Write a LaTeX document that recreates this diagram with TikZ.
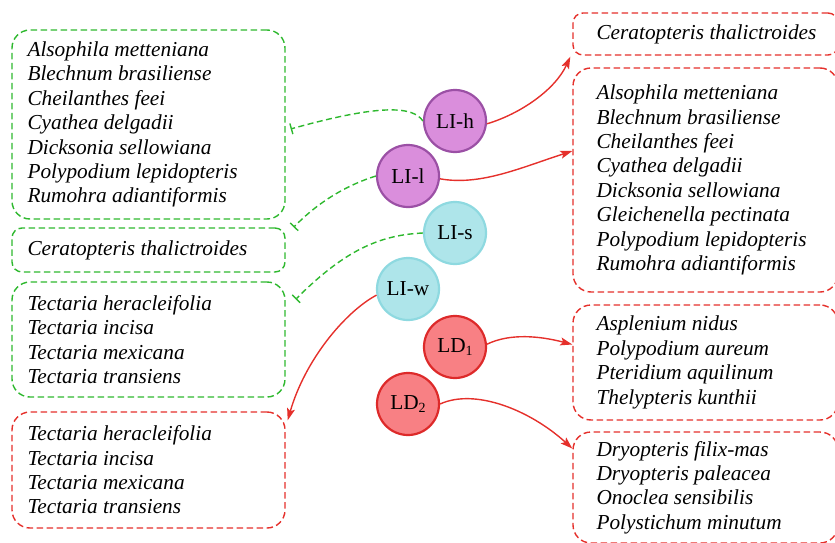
\documentclass[tikz,border=0pt]{standalone}
\usepackage{fontspec}
\setmainfont{Liberation Serif}
\usetikzlibrary{arrows.meta}
\definecolor{grn}{HTML}{2EB82E}
\definecolor{rd}{HTML}{E5302B}
\definecolor{purf}{HTML}{DA8EDC}
\definecolor{purd}{HTML}{9B50A5}
\definecolor{cyf}{HTML}{AEE5EA}
\definecolor{cyd}{HTML}{8ED9E0}
\definecolor{redf}{HTML}{F88084}
\definecolor{redd}{HTML}{DD2A2A}
\tikzset{
  gbox/.style={draw=grn, line width=1.4pt, dash pattern=on 6.5pt off 3.5pt, rounded corners=18pt, inner sep=0pt},
  rbox/.style={gbox, draw=rd},
  lst/.style={inner sep=0pt, align=left, font=\fontsize{21.3}{24.4}\selectfont\itshape, anchor=west},
  circ/.style={circle, minimum size=62pt, inner sep=0pt, line width=2.2pt, font=\fontsize{21.3}{24}\selectfont},
  pur/.style={circ, fill=purf, draw=purd},
  cy/.style={circ, fill=cyf, draw=cyd},
  rdc/.style={circ, fill=redf, draw=redd},
  inh/.style={draw=grn, line width=1.4pt, dash pattern=on 6pt off 3.5pt, -{Bar[width=11pt, line width=1.4pt]}},
  act/.style={draw=rd, line width=1.4pt, -{Stealth[length=12pt, width=8pt, inset=2.5pt]}},
}
\newcommand{\subn}[1]{\raisebox{-0.35ex}{\fontsize{14}{14}\selectfont #1}}
\begin{document}
\begin{tikzpicture}[x=1pt,y=-1pt]
\useasboundingbox (0,0) rectangle (835,543);
% left boxes
\node[gbox, minimum width=273pt, minimum height=189pt] (lb1) at (148.5,124.5) {};
\node[gbox, rounded corners=10pt, minimum width=273pt, minimum height=44pt] (lb2) at (148.5,250) {};
\node[gbox, minimum width=273pt, minimum height=115pt] (lb3) at (148.5,339.5) {};
\node[rbox, minimum width=273pt, minimum height=116pt] (lb4) at (148.5,470) {};
\node[lst] (lt1) at ([xshift=16pt]lb1.west) {Alsophila metteniana\\Blechnum brasiliense\\Cheilanthes feei\\Cyathea delgadii\\Dicksonia sellowiana\\Polypodium lepidopteris\\Rumohra adiantiformis};
\node[lst] (lt2) at ([xshift=16pt]lb2.west) {Ceratopteris thalictroides};
\node[lst] (lt3) at ([xshift=16pt]lb3.west) {Tectaria heracleifolia\\Tectaria incisa\\Tectaria mexicana\\Tectaria transiens};
\node[lst] (lt4) at ([xshift=16pt]lb4.west) {Tectaria heracleifolia\\Tectaria incisa\\Tectaria mexicana\\Tectaria transiens};
% right boxes
\node[rbox, rounded corners=10pt, minimum width=265pt, minimum height=42pt] (r1) at (705.5,34) {};
\node[rbox, minimum width=265pt, minimum height=224pt] (r2) at (705.5,180) {};
\node[rbox, minimum width=265pt, minimum height=115pt] (r3) at (705.5,362.5) {};
\node[rbox, minimum width=265pt, minimum height=111pt] (r4) at (705.5,487.5) {};
\node[lst] (rt1) at ([xshift=24pt]r1.west) {Ceratopteris thalictroides};
\node[lst] (rt2) at ([xshift=24pt]r2.west) {Alsophila metteniana\\Blechnum brasiliense\\Cheilanthes feei\\Cyathea delgadii\\Dicksonia sellowiana\\Gleichenella pectinata\\Polypodium lepidopteris\\Rumohra adiantiformis};
\node[lst] (rt3) at ([xshift=24pt]r3.west) {Asplenium nidus\\Polypodium aureum\\Pteridium aquilinum\\Thelypteris kunthii};
\node[lst] (rt4) at ([xshift=24pt]r4.west) {Dryopteris filix-mas\\Dryopteris paleacea\\Onoclea sensibilis\\Polystichum minutum};
% circles
\node[pur] (lih) at (455,121) {LI-h};
\node[pur] (lil) at (408,176) {LI-l};
\node[cy] (lis) at (455,233) {LI-s};
\node[cy] (liw) at (408,289) {LI-w};
\node[rdc] (ld1) at (455,347) {LD\subn{1}};
\node[rdc] (ld2) at (408,404) {LD\subn{2}};
% inhibition connectors
\draw[inh] (lih.west) .. controls (413,106) and (380,104) .. ([xshift=5pt,yshift=-4.5pt]lb1.east);
\draw[inh] (lil.west) .. controls (350,184) and (320,200) .. ([xshift=8pt]lb2.north east);
\draw[inh] (lis.west) .. controls (380,235) and (345,250) .. ([xshift=10pt,yshift=-18pt]lb3.north east);
% activation connectors
\draw[act] (liw.191) .. controls (345,312) and (305,360) .. ([xshift=2pt,yshift=-9pt]lb4.north east);
\draw[act] (lih.-5) .. controls (520,114) and (555,90) .. ([xshift=-2pt,yshift=-1pt]r1.south west);
\draw[act] (lil.-5) .. controls (480,186) and (520,168) .. ([yshift=29pt]r2.west);
\draw[act] (ld1.5) .. controls (510,333) and (540,336) .. ([yshift=18pt]r3.west);
\draw[act] (ld2.east) .. controls (475,388) and (530,410) .. ([yshift=39pt]r4.west);
\end{tikzpicture}
\end{document}
